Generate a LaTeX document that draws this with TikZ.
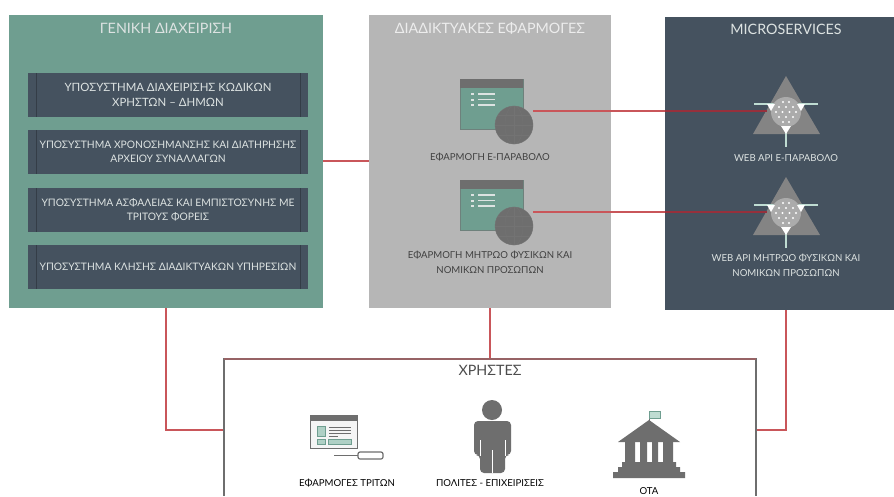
\documentclass[tikz,border=0pt]{standalone}
\usepackage{fontspec}
\setmainfont{Lato}
\usetikzlibrary{calc}
\definecolor{panelgreen}{HTML}{6F9E90}
\definecolor{paneldark}{HTML}{45525F}
\definecolor{panelgray}{HTML}{B6B6B6}
\definecolor{iconmid}{HTML}{6E6E6E}
\definecolor{linkred}{HTML}{C9565A}
\definecolor{linkdeep}{HTML}{96303C}
\definecolor{paletext}{HTML}{DDE3E2}
\definecolor{mint}{HTML}{BFDCD2}
\tikzset{
	panel/.style={inner sep=0pt, outer sep=0pt},
	paneltitle/.style={font=\fontsize{14.3}{16}\selectfont},
	subbox/.style={panel, fill=paneldark, minimum width=280, minimum height=44, align=center, text=paletext, font=\fontsize{10.3}{14.5}\selectfont},
	caption/.style={align=center, font=\fontsize{9.6}{15}\selectfont, inner sep=0pt},
	link/.style={draw=linkred, line width=1.2pt},
	deeplink/.style={draw=linkdeep, line width=1.5pt},
}
\def\appicon(#1,#2)#3{
	\fill[panelgreen, draw=iconmid!60!panelgreen, line width=0.5pt] (#1, #2) rectangle (#1+63, #2+50);
	\fill[iconmid] (#1, #2) rectangle (#1+63, #2+9);
	\foreach \row in {15, 20.5, 26}{
		\fill[paletext] (#1+11, #2+\row-1) rectangle (#1+14, #2+\row+1);
		\fill[paletext] (#1+18, #2+\row-0.8) rectangle (#1+35, #2+\row+0.8);
	}
	\node[circle, fill=iconmid, minimum size=38, inner sep=0pt, outer sep=0pt] (#3) at (#1+54, #2+46) {};
	\draw[black!55, line width=0.4pt] (#3) circle (19);
	\draw[black!55, line width=0.4pt] (#1+54, #2+27) -- (#1+54, #2+65) (#1+35, #2+46) -- (#1+73, #2+46);
	\draw[black!55, line width=0.4pt] (#1+38, #2+36) -- (#1+70, #2+36) (#1+38, #2+56) -- (#1+70, #2+56);
	\draw[black!55, line width=0.4pt] (#1+54, #2+46) ellipse (9 and 19);
}
\def\apiicon(#1,#2)#3{
	\fill[iconmid!85!white] (#1, #2) -- (#1+34, #2+58) -- (#1-33, #2+58) -- cycle;
	\draw[mint, line width=1.6pt] (#1-32, #2+28) -- (#1+32, #2+28);
	\draw[mint, line width=1.6pt] (#1, #2+52) -- (#1, #2+71);
	\node[circle, fill=black!33, minimum size=30, inner sep=0pt, outer sep=0pt] (#3) at (#1, #2+36) {};
	\foreach \dx/\dy in {-3/-10, 3/-10, -7/-5, 0/-5, 7/-5, -10/0, -3.5/0, 3.5/0, 10/0, -7/5, 0/5, 7/5, -3/10, 3/10}
		\fill[white] (#1+\dx, #2+36+\dy) circle (1.1);
	\fill[white] (#1-19, #2+28) -- (#1-11, #2+28) -- (#1-15, #2+35) -- cycle;
	\fill[white] (#1+11, #2+28) -- (#1+19, #2+28) -- (#1+15, #2+35) -- cycle;
	\fill[white] (#1-5, #2+50) -- (#1+5, #2+50) -- (#1, #2+58) -- cycle;
}
\begin{document}
\begin{tikzpicture}[x=1pt, y=-1pt]
	%%%%% START %%%%%
	\useasboundingbox (0, 0) rectangle (894, 496);
	\fill[white] (0, 0) rectangle (894, 496);
	
	\node[panel, fill=panelgreen, minimum width=314, minimum height=293] (genpanel) at (166, 161.5) {};
	\node[panel, fill=panelgray, minimum width=242, minimum height=293] (webpanel) at (490, 161.5) {};
	\node[panel, fill=paneldark, minimum width=229, minimum height=293] (apipanel) at (779.5, 163.5) {};
	\node[panel, minimum width=532, minimum height=142] (userbox) at (490, 430) {};
	
	\draw[link] ([yshift=0.5pt]genpanel.east) -- ([yshift=0.5pt]webpanel.west);
	\draw[link] (webpanel) -- (userbox);
	\draw[link] (genpanel.south) |- (userbox.west);
	\draw[link] ([xshift=6.5pt]apipanel.south) |- (userbox.east);
	
	\draw[line width=1.2pt, color=iconmid] (224, 496) |- (756, 359) -- (756, 496);
	\draw[line width=1.2pt, color=linkred!45!iconmid] (224, 359) -- (756, 359);
	
	\node[paneltitle, text=paletext] (gentitle) at (166, 28) {ΓΕΝΙΚΗ ΔΙΑΧΕΙΡΙΣΗ};
	\node[paneltitle, text=black!7] (webtitle) at (490, 28) {ΔΙΑΔΙΚΤΥΑΚΕΣ ΕΦΑΡΜΟΓΕΣ};
	\node[paneltitle, text=paletext] (apititle) at (786, 29) {MICROSERVICES};
	\node[paneltitle, text=black!70] (usertitle) at (490, 370) {ΧΡΗΣΤΕΣ};
	
	\node[subbox, font=\fontsize{11.4}{14.5}\selectfont] (subcodes) at (168, 95) {ΥΠΟΣΥΣΤΗΜΑ ΔΙΑΧΕΙΡΙΣΗΣ ΚΩΔΙΚΩΝ\\ΧΡΗΣΤΩΝ – ΔΗΜΩΝ};
	\node[subbox] (subtime) at (168, 152) {ΥΠΟΣΥΣΤΗΜΑ ΧΡΟΝΟΣΗΜΑΝΣΗΣ ΚΑΙ ΔΙΑΤΗΡΗΣΗΣ\\ΑΡΧΕΙΟΥ ΣΥΝΑΛΛΑΓΩΝ};
	\node[subbox] (subsafe) at (168, 210) {ΥΠΟΣΥΣΤΗΜΑ ΑΣΦΑΛΕΙΑΣ ΚΑΙ ΕΜΠΙΣΤΟΣΥΝΗΣ ΜΕ\\ΤΡΙΤΟΥΣ ΦΟΡΕΙΣ};
	\node[subbox] (subcall) at (168, 267) {ΥΠΟΣΥΣΤΗΜΑ ΚΛΗΣΗΣ ΔΙΑΔΙΚΤΥΑΚΩΝ ΥΠΗΡΕΣΙΩΝ};
	\foreach \boxname in {subcodes, subtime, subsafe, subcall}{
		\draw[black!25!paneldark, line width=0.5pt] ([xshift=8pt]\boxname.north west) -- ([xshift=8pt]\boxname.south west);
		\draw[black!25!paneldark, line width=0.5pt] ([xshift=-8pt]\boxname.north east) -- ([xshift=-8pt]\boxname.south east);
	}
	
	\appicon(460, 79){globeone}
	\appicon(460, 180){globetwo}
	\node[caption, text=black!75] (appone) at (490, 157) {ΕΦΑΡΜΟΓΗ Ε-ΠΑΡΑΒΟΛΟ};
	\node[caption, text=black!75] (apptwo) at (490, 262.5) {ΕΦΑΡΜΟΓΗ ΜΗΤΡΩΟ ΦΥΣΙΚΩΝ ΚΑΙ\\ΝΟΜΙΚΩΝ ΠΡΟΣΩΠΩΝ};
	
	\apiicon(786, 76){coreone}
	\apiicon(786, 177){coretwo}
	\node[caption, text=paletext] (apione) at (786, 158) {WEB API Ε-ΠΑΡΑΒΟΛΟ};
	\node[caption, text=paletext] (apitwo) at (786, 265.5) {WEB API ΜΗΤΡΩΟ ΦΥΣΙΚΩΝ ΚΑΙ\\ΝΟΜΙΚΩΝ ΠΡΟΣΩΠΩΝ};
	
	\draw[link] ([yshift=14pt]globeone.east) -- (apipanel.west |- {$(globeone.east)+(0,14pt)$});
	\draw[link] ([yshift=14pt]globetwo.east) -- (apipanel.west |- {$(globetwo.east)+(0,14pt)$});
	\draw[deeplink] (apipanel.west |- {$(globeone.east)+(0,14pt)$}) -- ([xshift=-4pt,yshift=1pt]coreone.west);
	\draw[deeplink] (apipanel.west |- {$(globetwo.east)+(0,14pt)$}) -- ([xshift=-4pt,yshift=1pt]coretwo.west);
	
	% third party window
	\draw[fill=black!4, draw=iconmid, line width=0.8pt] (310, 415) rectangle (357, 448);
	\fill[iconmid] (310, 415) rectangle (357, 421);
	\draw[fill=mint!80!panelgreen, draw=panelgreen, line width=0.4pt] (317, 426) rectangle (325, 436);
	\draw[fill=mint!80!panelgreen, draw=panelgreen, line width=0.4pt] (317, 439) rectangle (325, 444);
	\draw[fill=mint!80!panelgreen, draw=panelgreen, line width=0.4pt] (328, 439) rectangle (351, 444);
	\foreach \row in {427, 430, 433}
		\draw[iconmid, line width=0.6pt] (329, \row) -- (351, \row);
	\draw[iconmid, line width=0.6pt] (329, 436) -- (338, 436);
	\draw[iconmid, line width=0.8pt] (334, 455) -- (358, 455);
	\draw[fill=white, draw=iconmid, line width=1.2pt, rounded corners=2pt] (358, 452) rectangle (383, 459);
	\node[caption] (thirdlabel) at (347, 483.5) {ΕΦΑΡΜΟΓΕΣ ΤΡΙΤΩΝ};
	
	% citizen
	\fill[iconmid] (492, 410) circle (10);
	\fill[iconmid, rounded corners=4pt] (474, 455) -- (474, 421) -- (511, 421) -- (511, 455) -- (505, 455) -- (505, 473) -- (480, 473) -- (480, 455) -- cycle;
	\draw[white, line width=0.5pt] (492, 450) -- (492, 473) (480, 440) -- (480, 456) (505, 440) -- (505, 456);
	\node[caption] (citizenlabel) at (490, 483.5) {ΠΟΛΙΤΕΣ - ΕΠΙΧΕΙΡΙΣΕΙΣ};
	
	% town hall
	\draw[iconmid, line width=0.8pt] (649, 421) -- (649, 411);
	\draw[fill=mint, draw=panelgreen, line width=0.4pt] (649, 411) rectangle (660, 418);
	\fill[iconmid] (649, 420) -- (680, 442) -- (618, 442) -- cycle;
	\fill[iconmid] (625, 442) rectangle (635, 462) (640, 442) rectangle (647, 462) (652, 442) rectangle (658, 462) (663, 442) rectangle (673, 462);
	\fill[iconmid] (622, 462) rectangle (676, 467) (618, 467) rectangle (680, 472) (613, 472) rectangle (685, 478);
	\node[caption] (otalabel) at (649, 491) {ΟΤΑ};
	
	%%%%% END %%%%%
\end{tikzpicture}
\end{document}
